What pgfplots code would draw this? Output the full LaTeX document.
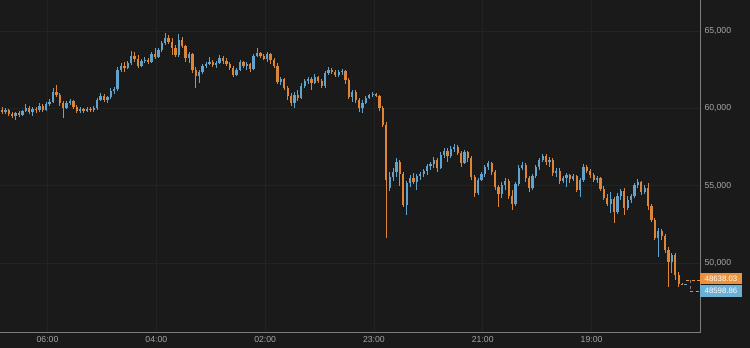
\documentclass[border=0pt]{standalone}
\usepackage{pgfplots}
\pgfplotsset{compat=1.18}
\usepackage{pgfplotstable}
\usepackage{fontspec}
\setmainfont{Liberation Sans}
\definecolor{bg}{RGB}{26,26,26}
\definecolor{gridc}{RGB}{35,35,35}
\definecolor{axc}{RGB}{125,125,125}
\definecolor{tickc}{RGB}{165,165,165}
\definecolor{upc}{RGB}{98,163,204}
\definecolor{dnc}{RGB}{222,134,56}
\definecolor{upl}{RGB}{108,176,214}
\definecolor{dnl}{RGB}{234,146,62}

\pgfplotstableread{
i o h l c
0 59894 60088 59636 59765
1 59765 60023 59636 59894
2 59894 59959 59506 59636
3 59636 59765 59377 59506
4 59506 59765 59248 59700
5 59700 59829 59442 59571
6 59571 59894 59506 59829
7 59829 60282 59765 60023
8 60023 60152 59636 59765
9 59765 60088 59506 59959
10 59959 60088 59700 59894
11 59894 60346 59765 60152
12 60152 60282 59765 59894
13 59894 60411 59829 60282
14 60282 60605 60152 60411
15 60411 61315 60346 61057
16 61057 61509 60734 60863
17 60863 60992 60152 60346
18 60346 60475 59377 60023
19 60023 60475 59959 60346
20 60346 60605 60217 60475
21 60475 60540 59959 60088
22 60088 60217 59700 59829
23 59829 60088 59700 59959
24 59959 60023 59700 59829
25 59829 60088 59765 59959
26 59959 60088 59765 59894
27 59894 60152 59765 60023
28 60023 60669 59894 60540
29 60540 60992 60475 60798
30 60798 60928 60411 60540
31 60540 60798 60346 60734
32 60734 61315 60605 61121
33 61121 61380 60928 61251
34 61251 62672 61121 62478
35 62478 62930 62349 62736
36 62736 62995 62349 62607
37 62607 63059 62543 62930
38 62930 63705 62801 63382
39 63382 63641 62995 63189
40 63189 63447 62607 62736
41 62736 63189 62672 63059
42 63059 63318 62930 63124
43 63124 63253 62866 62995
44 62995 63641 62930 63512
45 63512 63899 63189 63318
46 63318 63899 63253 63770
47 63770 64351 63641 64222
48 64222 64868 64093 64545
49 64545 64739 64158 64287
50 64287 64545 63447 63899
51 63899 64093 63318 63447
52 63447 64804 63318 64416
53 64416 64610 63899 64028
54 64028 64093 62995 63253
55 63253 63641 62930 63512
56 63512 63576 62284 62478
57 62478 62672 61315 62090
58 62090 62478 61638 62349
59 62349 62866 62220 62736
60 62736 62995 62607 62866
61 62866 63318 62801 62995
62 62995 63124 62672 62801
63 62801 63059 62607 62930
64 62930 63447 62866 63253
65 63253 63382 62866 63059
66 63059 63253 62736 62866
67 62866 62995 62478 62607
68 62607 62736 62026 62155
69 62155 62607 62090 62478
70 62478 63124 62413 62995
71 62995 63059 62607 62736
72 62736 62995 62478 62866
73 62866 62930 62349 62543
74 62543 63512 62478 63382
75 63382 63899 63318 63576
76 63576 63641 63253 63382
77 63382 63512 63124 63189
78 63189 63641 62995 63512
79 63512 63576 62866 63124
80 63124 63253 62607 62736
81 62736 62930 61574 61703
82 61703 62026 61509 61897
83 61897 61961 61186 61315
84 61315 61444 60540 60798
85 60798 60992 60152 60346
86 60346 61057 60023 60863
87 60863 61186 60475 60669
88 60669 61638 60605 61444
89 61444 61897 61315 61767
90 61767 62026 61574 61897
91 61897 62026 61186 61638
92 61638 62220 61574 62026
93 62026 62090 61638 61767
94 61767 61897 61315 61444
95 61444 62413 61315 62284
96 62284 62672 62155 62478
97 62478 62607 62220 62349
98 62349 62478 62026 62155
99 62155 62478 62026 62349
100 62349 62543 62155 62413
101 62413 62478 61574 61832
102 61832 61961 60605 60734
103 60734 61186 60411 61057
104 61057 61186 60346 60540
105 60540 60669 59765 60023
106 60023 60540 59700 60346
107 60346 60798 60282 60669
108 60669 60928 60605 60863
109 60863 61057 60734 60928
110 60928 60992 60734 60798
111 60798 60863 59829 60023
112 60023 60152 58796 58925
113 58925 59119 51625 55372
114 54855 55889 54661 55566
115 55566 56147 55307 55889
116 55889 56793 55566 56535
117 56535 56664 54984 55760
118 55760 55889 53628 53757
119 53757 55307 53111 55178
120 55178 55695 54920 55501
121 55501 55824 55114 55243
122 55243 55760 54726 55630
123 55630 55889 55372 55760
124 55760 56083 55566 55953
125 55953 56406 55695 56276
126 56276 56535 56018 56406
127 56406 56858 56147 56664
128 56664 56793 55889 56147
129 56147 57181 56083 56987
130 56987 57439 56793 57245
131 57245 57439 56535 56922
132 56922 57568 56793 57375
133 57375 57698 57181 57504
134 57504 57633 56987 57116
135 57116 57245 56212 56470
136 56470 57310 56406 57181
137 57181 57245 56535 56793
138 56793 56922 55372 55566
139 55566 55695 54274 54532
140 54532 55501 54403 55372
141 55372 55889 55307 55760
142 55760 56341 55566 56212
143 56212 56599 56018 56470
144 56470 56535 55695 55889
145 55889 56018 54726 54920
146 54920 55049 53628 54468
147 54468 55243 54209 55049
148 55049 55501 54726 55307
149 55307 55437 54145 54338
150 54338 54726 53434 53822
151 53822 55243 53692 55114
152 55114 56341 54984 56147
153 56147 56535 56018 56341
154 56341 56470 55243 55501
155 55501 55630 54597 54855
156 54855 55760 54726 55630
157 55630 56341 55501 56212
158 56212 56793 56018 56664
159 56664 57052 56535 56922
160 56922 57052 56341 56535
161 56535 56858 56212 56664
162 56664 56793 55630 55824
163 55824 56147 55566 55953
164 55953 56147 55114 55307
165 55307 55630 55178 55501
166 55501 55824 54920 55695
167 55695 55760 55178 55437
168 55437 55760 55307 55630
169 55630 55695 54597 54726
170 54726 55501 54274 55372
171 55372 56406 55243 56212
172 56212 56341 55824 55953
173 55953 56083 55501 55695
174 55695 55824 55243 55372
175 55372 55630 55178 55501
176 55501 55566 54661 54791
177 54791 54984 54080 54209
178 54209 54468 53692 53822
179 53822 54597 53240 54145
180 54145 54274 52594 53305
181 53305 54532 53176 54338
182 54338 54791 54080 54661
183 54661 54855 53111 53563
184 53563 54338 53434 54080
185 54080 54468 53886 54338
186 54338 55178 54209 55049
187 55049 55437 54855 55243
188 55243 55307 54403 54597
189 54597 55049 54468 54855
190 54855 55178 53434 53692
191 53692 53822 52659 52788
192 52788 52917 51496 51625
193 51625 52271 50398 52077
194 52077 52207 51496 51754
195 51754 51884 50656 50850
196 50850 51044 48460 50075
197 50075 50656 49364 50527
198 50527 50656 48912 49235
199 49235 49429 48460 48654
200 48654 48718 48589 48638
201 48600 48654 48560 48638
}\candles

\pgfplotsset{
  candle/.style 2 args={draw=none, mark=none, forget plot,
    error bars/.cd, y dir=plus, y explicit, error mark=none,
    error bar style={draw=#1, line width=#2, solid}},
}

\begin{document}
\begin{tikzpicture}
\useasboundingbox (0,0) rectangle (750pt,348pt);
\fill[bg] (0,0) rectangle (750pt,348pt);
\begin{axis}[
  at={(0pt,16pt)}, anchor=south west,
  width=700pt, height=332pt, scale only axis,
  xmin=-0.588, xmax=205.29, ymin=45553, ymax=67000,
  axis line style={draw=none},
  scaled x ticks=false, scaled y ticks=false,
  xtick={13.38,45.38,77.38,109.38,141.38,173.38},
  xticklabels={06:00,04:00,02:00,23:00,21:00,19:00},
  ytick={50000,55000,60000,65000},
  yticklabels={{50,000},{55,000},{60,000},{65,000}},
  yticklabel pos=right,
  major tick length=0pt,
  tick style={draw=none},
  grid=major, major grid style={draw=gridc, line width=0.8pt},
  /pgf/number format/assume math mode=true,
  tick label style={font=\fontsize{8.7}{10}\selectfont, text=tickc},
  xticklabel style={anchor=center, inner sep=0pt, yshift=-7.7pt},
  yticklabel style={anchor=west, inner sep=0pt, xshift=4.3pt},
]
% wicks
\addplot[candle={upc}{0.9pt}]
  table[x expr={\thisrow{c}>\thisrow{o} ? \thisrow{i} : -1000}, y=l, y error plus expr={\thisrow{h}-\thisrow{l}}] {\candles};
\addplot[candle={dnc}{0.9pt}]
  table[x expr={\thisrow{c}>\thisrow{o} ? -1000 : \thisrow{i}}, y=l, y error plus expr={\thisrow{h}-\thisrow{l}}] {\candles};
% bodies
\addplot[candle={upc}{2.3pt}]
  table[x expr={\thisrow{c}>\thisrow{o} ? \thisrow{i} : -1000}, y=o, y error plus expr={\thisrow{c}-\thisrow{o}}] {\candles};
\addplot[candle={dnc}{2.3pt}]
  table[x expr={\thisrow{c}>\thisrow{o} ? -1000 : \thisrow{i}}, y=c, y error plus expr={\thisrow{o}-\thisrow{c}}] {\candles};
% last-price markers
\draw[dnl, line width=0.8pt, dash pattern=on 3pt off 2.5pt] (axis cs:201.2,48880) -- (axis cs:205.29,48880);
\draw[upl, line width=0.8pt, dash pattern=on 3pt off 2.5pt] (axis cs:202.35,48201) -- (axis cs:205.29,48201);
\draw[gray, line width=0.8pt, dash pattern=on 3pt off 2.5pt] (axis cs:202.35,48880) -- (axis cs:202.35,48201);
\coordinate (lastp) at (axis cs:205.29,48617);
\end{axis}
\draw[axc, line width=0.9pt] (0,16pt) -- (700pt,16pt) -- (700pt,348pt);
\node[fill=dnl, text=white, font=\fontsize{7.8}{9}\selectfont, minimum width=41.5pt, minimum height=11.5pt, inner sep=0pt, anchor=south west] at (lastp) {48638.03};
\node[fill=upl, text=white, font=\fontsize{7.8}{9}\selectfont, minimum width=41.5pt, minimum height=12.5pt, inner sep=0pt, anchor=north west] at (lastp) {48598.86};
\end{tikzpicture}
\end{document}
